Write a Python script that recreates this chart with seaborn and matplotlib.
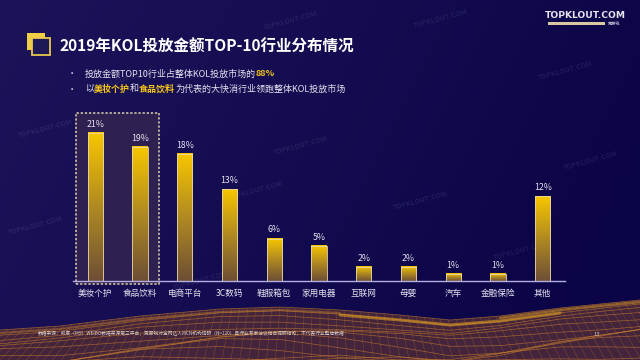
import numpy as np
import matplotlib.pyplot as plt
import seaborn as sns
from matplotlib.patches import Rectangle, Polygon
from matplotlib.colors import LinearSegmentedColormap

# Data
categories = ['美妆个护', '食品饮料', '电商平台', '3C数码', '鞋服箱包', '家用电器',
              '互联网', '母婴', '汽车', '金融保险', '其他']
shares = [21, 19, 18, 13, 6, 5, 2, 2, 1, 1, 12]
value_labels = ['21%', '19%', '18%', '13%', '6%', '5%', '2%', '2%', '1%', '1%', '12%']

title = '2019年KOL投放金额TOP-10行业分布情况'
bullet1 = [('投放金额TOP10行业占整体KOL投放市场的', False), ('88%', True)]
bullet2 = [('以', False), ('美妆个护', True), ('和', False), ('食品饮料', True),
           ('为代表的大快消行业领跑整体KOL投放市场', False)]
footnote = ('数据来源：凯度（MS）WEIBO数据来源第三平台，克劳锐对全网达人MCN机构调研（N=120）'
            '且行业专家访谈结合调研结论，不代表行业整体数据')

sns.set_theme(style='white')
plt.rcParams['font.family'] = ['Noto Sans CJK SC', 'DejaVu Sans']

YELLOW = '#f5c518'
TEXT = '#e4e2ef'

fig = plt.figure(figsize=(6.4, 3.6), dpi=100)

# background layer in pixel coordinates
bg = fig.add_axes([0, 0, 1, 1])
bg.set_xlim(0, 640)
bg.set_ylim(360, 0)
bg.axis('off')
gx = np.linspace(0, 1, 200)[None, :]
gy = np.linspace(0, 1, 120)[:, None]
c_left = np.array([0x1c, 0x14, 0x5a]) / 255
c_right = np.array([0x0b, 0x05, 0x47]) / 255
t = np.clip(gx * 0.9 + gy * 0.25, 0, 1)[..., None]
img = c_left * (1 - t) + c_right * t
bg.imshow(img, extent=[0, 640, 360, 0], aspect='auto', zorder=0)

# terrain at the bottom
tx = np.array([0, 60, 140, 220, 280, 340, 400, 450, 500, 560, 600, 640])
ty = np.array([330, 326, 316, 309, 307, 310, 315, 320, 316, 308, 304, 300])
terr = Polygon(np.column_stack([np.r_[tx, 640, 0], np.r_[ty, 360, 360]]),
               closed=True, facecolor='#43243a', edgecolor='none', zorder=1)
bg.add_patch(terr)
for k in range(0, 13):
    off = k * 4.5
    bg.plot(tx, np.minimum(ty + off * (1 + 0.18 * np.sin(tx / 70 + k)), 362),
            color='#d0822c', lw=0.55, alpha=0.6, zorder=2)
for xv in np.arange(-40, 700, 8):
    y0 = np.interp(xv, tx, ty)
    bg.plot([xv, xv + (xv - 320) * 0.12], [y0, 362], color='#b86e32',
            lw=0.35, alpha=0.5, zorder=2)
bg.plot(tx[5:10], ty[5:10] + 5, color='#e8a820', lw=2.2, alpha=0.55, zorder=2)
bg.plot(tx[8:], ty[8:] + 2, color='#e8a820', lw=1.8, alpha=0.45, zorder=2)
bg.plot(tx[:6], ty[:6] + 3, color='#d08a30', lw=1.5, alpha=0.4, zorder=2)

# faint watermarks
for wx, wy in [(45, 128), (120, 80), (290, 20), (440, 18), (300, 145), (255, 190),
               (565, 70), (590, 160), (200, 280), (520, 250), (420, 200), (35, 225)]:
    bg.text(wx, wy, 'TOPKLOUT.COM', color='white', alpha=0.08, fontsize=5,
            rotation=15, ha='center', va='center', fontweight='bold', zorder=3)

# title icon
bg.add_patch(Rectangle((27, 33), 18, 17, facecolor='#f0cf45', edgecolor='none', zorder=4))
bg.add_patch(Rectangle((32, 38), 18, 17, facecolor='#1d1856', edgecolor='#e9c84e',
                       lw=1.3, zorder=5))
bg.text(60, 47, title, color='white', fontsize=11.2, fontweight='bold',
        va='center', ha='left', zorder=5)

# bullet lines with highlighted pieces
fig.canvas.draw()
renderer = fig.canvas.get_renderer()
for yline, pieces in [(74, bullet1), (89, bullet2)]:
    bg.text(72, yline, '•', color=TEXT, fontsize=6, va='center', ha='center')
    x = 85
    for s, hl in pieces:
        tt = bg.text(x, yline, s, color=YELLOW if hl else TEXT, fontsize=6.5,
                     fontweight='bold' if hl else 'normal', va='center', ha='left')
        bb = tt.get_window_extent(renderer=renderer)
        x += bb.width * 640 / fig.bbox.width

# logo
bg.text(585, 16, 'TOPKLOUT.COM', color='#e6e4f0', fontsize=6.6, fontweight='bold',
        ha='center', va='center', family='DejaVu Sans')
bg.add_patch(Rectangle((548, 22), 57, 3, facecolor='#d9c9a0', edgecolor='none'))
bg.text(614, 23.5, '克劳锐', color='#cfcbe0', fontsize=3, ha='center', va='center')

# footnote and page number
bg.text(38, 333, footnote, color='#d8cfc8', fontsize=3.4, ha='left', va='center', zorder=5)
bg.text(597, 334, '13', color='#d8cfc8', fontsize=4, ha='center', va='center', zorder=5)

# chart
ax = fig.add_axes([73 / 640, 79 / 360, 492 / 640, 173 / 360])
ax.patch.set_alpha(0)
sns.barplot(x=categories, y=shares, ax=ax, width=0.34, color=YELLOW, saturation=1)
ax.set_xlim(-0.5, 10.5)
ax.set_ylim(0, 24.5)

grad = LinearSegmentedColormap.from_list('bar', ['#6e4f35', '#b08a22', '#f7c600'])
gimg = np.linspace(0, 1, 100)[:, None]
for p in ax.patches:
    x0, w, h = p.get_x(), p.get_width(), p.get_height()
    ax.imshow(gimg, cmap=grad, extent=[x0, x0 + w, 0, h], origin='lower',
              aspect='auto', zorder=3)
    p.set_facecolor('none')
    p.set_edgecolor('#e8d9a6')
    p.set_linewidth(0.6)
    p.set_zorder(4)
ax.set_xlim(-0.5, 10.5)
ax.set_ylim(0, 24.5)

for i, (v, lab) in enumerate(zip(shares, value_labels)):
    ax.annotate(lab, (i, v), xytext=(0, 3), textcoords='offset points',
                ha='center', va='bottom', color=TEXT, fontsize=6.3)

# highlight box around the two leading categories
ax.add_patch(Rectangle((-0.43, -0.43), 1.85, 24.25, facecolor='#2e2050',
                       edgecolor='#dccfae', lw=1.1, linestyle=(0, (1.5, 1.2)),
                       zorder=1, clip_on=False))

sns.despine(ax=ax, left=True, top=True, right=True)
ax.spines['bottom'].set_color('#b3aee0')
ax.spines['bottom'].set_linewidth(1)
ax.spines['bottom'].set_zorder(5)
ax.set_yticks([])
ax.set_xlabel('')
ax.set_ylabel('')
ax.tick_params(axis='x', length=0, pad=6, labelsize=6.2, labelcolor=TEXT)

fig.savefig('out.png', dpi=100)
